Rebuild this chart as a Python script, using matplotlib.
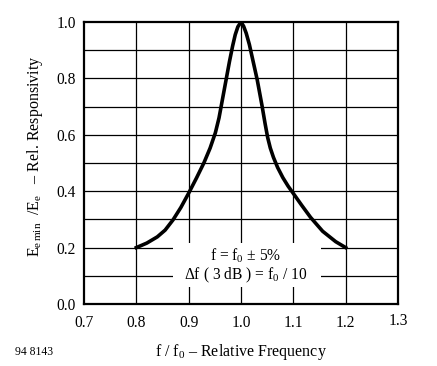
import matplotlib.pyplot as plt
from matplotlib.patches import Rectangle

plt.rcParams['font.family'] = 'Liberation Serif'
plt.rcParams['mathtext.fontset'] = 'custom'
plt.rcParams['mathtext.rm'] = 'Liberation Serif'
plt.rcParams['mathtext.it'] = 'Liberation Serif:italic'

# relative frequency f/f0 and relative responsivity
f_rel = [0.800, 0.820, 0.840, 0.855, 0.870, 0.885, 0.900, 0.915, 0.929, 0.941,
         0.951, 0.958, 0.965, 0.972, 0.978, 0.984, 0.989, 0.994, 1.000,
         1.005, 1.010, 1.016, 1.022, 1.031, 1.040, 1.046, 1.051, 1.056, 1.062,
         1.070, 1.080, 1.090, 1.100, 1.116, 1.133, 1.156, 1.181, 1.200]
resp = [0.200, 0.216, 0.238, 0.262, 0.298, 0.342, 0.393, 0.447, 0.500, 0.553,
        0.607, 0.660, 0.730, 0.800, 0.860, 0.915, 0.955, 0.983, 1.000,
        0.985, 0.960, 0.920, 0.870, 0.795, 0.705, 0.640, 0.590, 0.553, 0.520,
        0.484, 0.448, 0.418, 0.392, 0.350, 0.307, 0.258, 0.221, 0.200]

x_ticks = [0.7, 0.8, 0.9, 1.0, 1.1, 1.2, 1.3]
y_ticks = [0.0, 0.2, 0.4, 0.6, 0.8, 1.0]
y_grid = [0.1, 0.2, 0.3, 0.4, 0.5, 0.6, 0.7, 0.8, 0.9]

fig = plt.figure(figsize=(4.37, 3.66), dpi=100)
ax = fig.add_axes([84 / 437, 1 - 304 / 366, 314 / 437, 282 / 366])

for xv in x_ticks[1:-1]:
    ax.axvline(xv, color='black', lw=0.9, zorder=1)
for yv in y_grid:
    ax.axhline(yv, color='black', lw=0.9, zorder=1)

# white box behind the annotation
ax.add_patch(Rectangle((0.871, 0.06), 0.281, 0.156, facecolor='white',
                       edgecolor='none', zorder=2))

ax.plot(f_rel, resp, color='black', lw=2.6, zorder=3, solid_joinstyle='round')

ax.text(1.009, 0.17, r'f = f$_0$ ± 5%', ha='center', va='center', fontsize=11.2, zorder=4)
ax.text(1.009, 0.103, r'Δf ( 3 dB ) = f$_0$ / 10', ha='center', va='center',
        fontsize=11.2, zorder=4)

ax.set_xlim(0.7, 1.3)
ax.set_ylim(0.0, 1.0)
ax.set_xticks(x_ticks)
ax.set_xticklabels(['0.7', '0.8', '0.9', '1.0', '1.1', '1.2', ''])
ax.set_yticks(y_ticks)
ax.set_yticklabels(['0.0', '0.2', '0.4', '0.6', '0.8', '1.0'])
ax.tick_params(length=0, labelsize=11.2)
ax.tick_params(axis='x', pad=8)
ax.tick_params(axis='y', pad=6)
ax.text(1.3, -0.062, '1.3', ha='center', va='center', fontsize=11.2)

for sp in ax.spines.values():
    sp.set_linewidth(1.6)
    sp.set_zorder(5)

ax.set_xlabel(r'f / f$_0$ – Relative Frequency', fontsize=11.5, labelpad=8)
ax.set_ylabel(r'E$_{\mathrm{e\,min}}$  /E$_{\mathrm{e}}$   – Rel. Responsivity',
              fontsize=11.5)
ax.yaxis.set_label_coords(-0.125, 0.525)

fig.text(15 / 437, 1 - 352 / 366, '94 8143', fontsize=8.4, va='center')

fig.savefig('out.png', dpi=100)
